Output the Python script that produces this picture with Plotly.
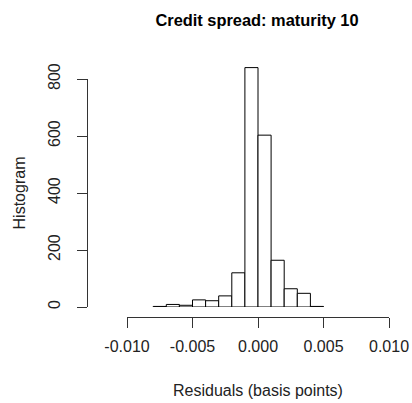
import plotly.graph_objects as go

# Histogram data (bin edges in residual units, counts)
bin_left = [-0.008, -0.007, -0.006, -0.005, -0.004, -0.003, -0.002, -0.001,
            0.000, 0.001, 0.002, 0.003, 0.004]
counts = [2, 9, 6, 25, 22, 39, 120, 840, 603, 164, 64, 48, 2]
bin_width = 0.001

x_ticks = [-0.010, -0.005, 0.000, 0.005, 0.010]
x_tick_labels = ["-0.010", "-0.005", "0.000", "0.005", "0.010"]
y_ticks = [0, 200, 400, 600, 800]
y_tick_labels = ["0", "200", "400", "600", "800"]

W, H = 412, 403
L, R, T, B = 87, 23, 60, 86
plot_h = H - T - B
plot_w = W - L - R

# pixel geometry (R base graphics style detached axes)
y0_px = 307      # pixel of count 0
y800_px = 79     # pixel of count 800
xaxis_px = 317   # pixel of x axis line
xm_px = 127      # pixel of x = -0.010
px_per_unit = (y0_px - y800_px) / 800.0

dom_bottom = (xaxis_px - y0_px) / plot_h
dom_top_vis = (xaxis_px - y800_px) / plot_h
y_range_top = (y0_px - T) / px_per_unit
x_dom_left = (xm_px - L) / plot_w

font = "Liberation Sans, Arial, Helvetica, sans-serif"

fig = go.Figure()
fig.add_trace(go.Bar(
    x=[b + bin_width / 2 for b in bin_left],
    y=counts,
    width=bin_width,
    marker=dict(color="white", line=dict(color="black", width=1)),
    xaxis="x", yaxis="y",
    showlegend=False,
    hoverinfo="skip",
))
# empty trace to make the visible count axis render
fig.add_trace(go.Scatter(x=[], y=[], xaxis="x", yaxis="y2", showlegend=False))

fig.update_layout(
    width=W, height=H,
    margin=dict(l=L, r=R, t=T, b=B, autoexpand=False),
    paper_bgcolor="white", plot_bgcolor="rgba(0,0,0,0)",
    font=dict(family=font, size=16, color="black"),
    bargap=0,
    hovermode=False,
    title=dict(text="<b>Credit spread: maturity 10</b>",
               x=257 / W, xref="container", xanchor="center",
               y=1 - 20 / H, yref="container", yanchor="middle",
               font=dict(family=font, size=16.4, color="black")),
    xaxis=dict(
        domain=[x_dom_left, 1], range=[-0.010, 0.010],
        anchor="free", position=0,
        showgrid=False, zeroline=False,
        showline=True, linecolor="#333", linewidth=1,
        ticks="outside", ticklen=10, tickcolor="#333", tickwidth=1,
        tickvals=x_ticks, ticktext=x_tick_labels,
        ticklabelstandoff=5,
        tickfont=dict(size=16, color="#222"),
        title=dict(text="Residuals (basis points)", standoff=30,
                   font=dict(size=16, color="#222")),
    ),
    yaxis=dict(
        domain=[dom_bottom, 1], range=[0, y_range_top],
        visible=False, showgrid=False, zeroline=False,
    ),
    yaxis2=dict(
        domain=[dom_bottom, dom_top_vis], range=[0, 800],
        anchor="free", position=0,
        showgrid=False, zeroline=False,
        showline=True, linecolor="#333", linewidth=1,
        ticks="outside", ticklen=10, tickcolor="#333", tickwidth=1,
        tickvals=y_ticks, ticktext=y_tick_labels, tickangle=-90,
        ticklabelstandoff=11,
        tickfont=dict(size=16, color="#222"),
        title=dict(text="Histogram", standoff=14,
                   font=dict(size=16, color="#222")),
    ),
)

fig.write_html("out.html",
               config={"displayModeBar": False, "staticPlot": True},
               post_script="document.body.style.margin='0';document.body.style.padding='0';")
